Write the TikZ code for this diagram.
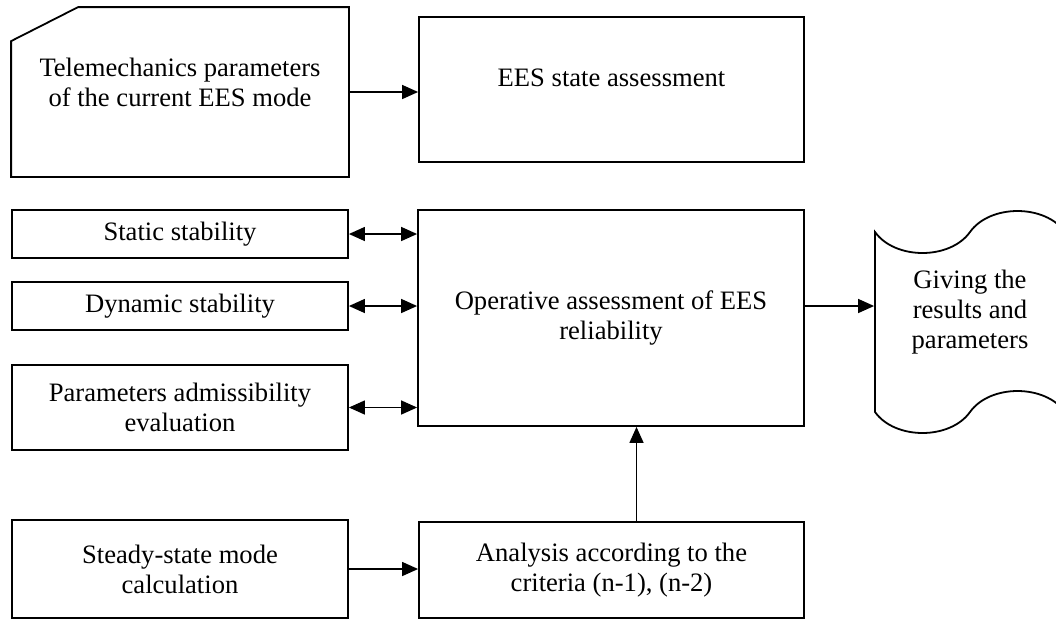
\documentclass[tikz,border=0pt]{standalone}
\usepackage{fontspec}
\setmainfont{Liberation Serif}
\usetikzlibrary{arrows.meta}

\tikzset{
  blk/.style={draw,line width=1.8pt,inner sep=0pt,align=center},
  txt/.style={align=center,inner sep=0pt},
  con/.style={line width=1.4pt,-{Triangle[length=16pt,width=14pt]}},
  dcon/.style={line width=1.4pt,{Triangle[length=16pt,width=14pt]}-{Triangle[length=16pt,width=14pt]}}
}

\begin{document}
\begin{tikzpicture}[x=1pt,y=-1pt,font=\fontsize{26.6}{30}\selectfont]
		\clip (0,0) rectangle (1056,619);
		% top row
		\node[blk,draw=none,minimum width=336,minimum height=168] (tele) at (180,92) {};
		\draw[line width=1.8pt] ([yshift=-34pt]tele.north west) -- ([xshift=67pt]tele.north west) -- (tele.north east) -- (tele.south east) -- (tele.south west) -- cycle;
		\node[txt] (tele-t) at ([yshift=10pt]tele.center) {Telemechanics parameters\\of the current EES mode};
		\node[blk,minimum width=385,minimum height=145] (ees) at (611.5,89.5) {};
		\node[txt] (ees-t) at ([yshift=12pt]ees.center) {EES state assessment};
		\draw[con] (tele.east) -- (tele.east -| ees.west);
		% left column
		\node[blk,minimum width=336,minimum height=48] (stat) at (180,234) {Static stability};
		\node[blk,minimum width=336,minimum height=48] (dyn) at (180,306) {Dynamic stability};
		\node[blk,minimum width=336,minimum height=85] (par) at (180,407.5) {Parameters admissibility\\evaluation};
		% centre
		\node[blk,minimum width=386,minimum height=216] (cen) at (611,318) {Operative assessment of EES\\reliability};
		\draw[dcon] (stat.east) -- (stat.east -| cen.west);
		\draw[dcon] (dyn.east) -- (dyn.east -| cen.west);
		\draw[dcon] (par.east) -- (par.east -| cen.west);
		% output tape
		\node[blk,draw=none,minimum width=190,minimum height=180] (out) at (970,322) {};
		\draw[line width=1.8pt] (875,232) .. controls (895,260) and (950,260) .. (970,232)
		  .. controls (990,204) and (1045,204) .. (1065,232) -- (1065,412)
		  .. controls (1045,384) and (990,384) .. (970,412)
		  .. controls (950,440) and (895,440) .. (875,412) -- cycle;
		\node[txt] (out-t) at ([yshift=10pt]out.center) {Giving the\\results and\\parameters};
		\draw[con] ([yshift=12pt]cen.east) -- ([yshift=12pt]cen.east -| out.west);
		% bottom row
		\node[blk,minimum width=336,minimum height=98] (ss) at (180,569) {Steady-state mode\\calculation};
		\node[blk,minimum width=385,minimum height=96] (ana) at (611.5,570) {Analysis according to the\\criteria (n-1), (n-2)};
		\draw[con] (ss.east) -- (ss.east -| ana.west);
		\draw[con] ([xshift=25pt]ana.north) -- ([xshift=25pt]ana.north |- cen.south);
\end{tikzpicture}
\end{document}
